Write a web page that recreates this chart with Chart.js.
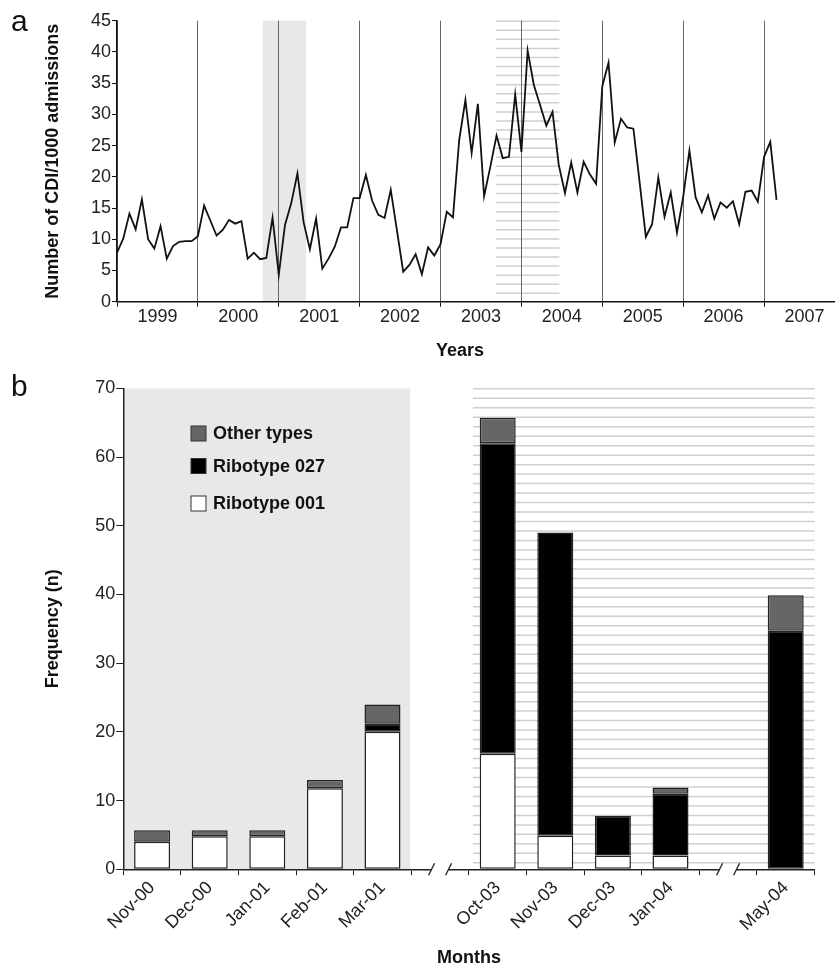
<!DOCTYPE html>
<html>
<head>
<meta charset="utf-8">
<script src="https://cdn.jsdelivr.net/npm/chart.js@4.4.0/dist/chart.umd.min.js"></script>
<style>
  body { margin: 0; background: #fff; font-family: "Liberation Sans", Arial, sans-serif; }
  #wrap { position: relative; width: 835px; height: 969px; }
  .panel { position: absolute; left: 11px; font-size: 30px; line-height: 1; color: #111; }
  #topChart { position: absolute; left: 0; top: 0; }
  #barChart { position: absolute; left: 0; top: 370px; }
</style>
</head>
<body>
<div id="wrap">
  <canvas id="topChart" width="835" height="370"></canvas>
  <canvas id="barChart" width="835" height="599"></canvas>
  <div class="panel" style="top:6px">a</div>
  <div class="panel" style="top:371px">b</div>
</div>
<script>
// panel a: CDI per 1000 admissions, 13 four-week periods per year
const years = ['1999', '2000', '2001', '2002', '2003', '2004', '2005', '2006', '2007'];
const periodsPerYear = 13;
const cdiRate = [
  7.85, 10.1, 14.1, 11.6, 16.4, 10.0, 8.5, 12.1, 6.9, 8.9, 9.6, 9.7, 9.7,
  10.5, 15.4, 13.0, 10.6, 11.5, 13.1, 12.5, 12.9, 6.9, 7.85, 6.8, 7.0, 13.45,
  4.3, 12.3, 15.75, 20.55, 12.7, 8.4, 13.3, 5.3, 6.9, 8.8, 11.9, 11.9, 16.6,
  16.6, 20.3, 16.2, 13.9, 13.4, 17.9, 11.4, 4.8, 5.9, 7.6, 4.4, 8.7, 7.4,
  9.2, 14.4, 13.5, 25.9, 32.3, 23.8, 31.7, 16.9, 21.6, 26.6, 23.0, 23.2, 33.2,
  24.0, 40.2, 34.7, 31.5, 28.2, 30.4, 21.9, 17.4, 22.3, 17.5, 22.4, 20.4, 18.9,
  34.5, 38.3, 25.5, 29.3, 27.9, 27.7, 19.1, 10.4, 12.4, 19.9, 13.6, 17.5, 11.05,
  16.8, 24.2, 16.7, 14.3, 17.0, 13.3, 15.9, 15.05, 16.1, 12.4, 17.6, 17.8, 16.0,
  23.2, 25.6, 16.3
];
// outbreak windows, in periods from Jan 1999
const greyWindow = [23.4, 30.4];
const hatchWindow = [60.9, 71.1];

// panel b: isolates per month
const months = ['Nov-00', 'Dec-00', 'Jan-01', 'Feb-01', 'Mar-01', '', 'Oct-03', 'Nov-03', 'Dec-03', 'Jan-04', '', 'May-04'];
const ribotype001 = [4, 4.8, 4.8, 11.8, 20, null, 16.8, 4.9, 2, 2, null, 0];
const ribotype027 = [0, 0, 0, 0, 1.2, null, 45.2, 44.1, 5.8, 9, null, 34.7];
const otherTypes = [1.7, 0.9, 0.9, 1.2, 2.8, null, 3.7, 0, 0, 0.9, null, 5.2];
const breakSlots = [5, 10];
const greyMonths = [-0.5, 4.48];
const hatchMonths = [5.57, 11.5];

Chart.defaults.font.family = '"Liberation Sans", Arial, sans-serif';
Chart.defaults.color = '#222';

// shaded + hatched backgrounds drawn under everything
const bands = {
  id: 'bands',
  beforeDraw(chart, args, opts) {
    const { ctx, chartArea: a, scales: { x } } = chart;
    ctx.save();
    const g0 = x.getPixelForValue(opts.grey[0]), g1 = x.getPixelForValue(opts.grey[1]);
    ctx.fillStyle = '#e8e8e8';
    ctx.fillRect(g0, a.top, g1 - g0, a.bottom - a.top);
    const h0 = x.getPixelForValue(opts.hatch[0]), h1 = x.getPixelForValue(opts.hatch[1]);
    ctx.strokeStyle = '#cfcfcf';
    ctx.lineWidth = 1.5;
    for (let y = a.top + 0.5; y < a.bottom - opts.gapBottom; y += opts.step) {
      ctx.beginPath();
      ctx.moveTo(h0, y);
      ctx.lineTo(h1, y);
      ctx.stroke();
    }
    ctx.restore();
  }
};

const yearsTitle = {
  id: 'yearsTitle',
  afterDraw(chart) {
    const ctx = chart.ctx;
    ctx.save();
    ctx.font = 'bold 18px "Liberation Sans", Arial, sans-serif';
    ctx.fillStyle = '#111';
    ctx.textAlign = 'center';
    ctx.textBaseline = 'middle';
    ctx.fillText('Years', 460, 351);
    ctx.restore();
  }
};

new Chart(document.getElementById('topChart'), {
  type: 'line',
  data: {
    datasets: [{
      data: cdiRate.map((v, i) => ({ x: i, y: v })),
      borderColor: '#111',
      borderWidth: 1.8,
      pointRadius: 0,
      tension: 0,
      fill: false
    }]
  },
  options: {
    responsive: false,
    animation: false,
    layout: { padding: { top: 20.7, right: 0, left: 0, bottom: 0 } },
    plugins: {
      legend: { display: false },
      tooltip: { enabled: false },
      bands: { grey: greyWindow, hatch: hatchWindow, step: 9.07, gapBottom: 6 }
    },
    scales: {
      x: {
        type: 'linear',
        min: 0,
        max: 115.4,
        afterBuildTicks(s) { s.ticks = years.map((_, k) => ({ value: k * periodsPerYear })); },
        afterFit(s) { s.height = 68.3; },
        ticks: {
          autoSkip: false, maxRotation: 0, padding: 0, labelOffset: 40.4,
          font: { size: 18 }, color: '#222',
          callback: (v, i) => years[i]
        },
        grid: { color: '#666', lineWidth: 1, tickLength: 5, tickColor: '#111' },
        border: { color: '#111', width: 1.5 }
      },
      y: {
        min: 0,
        max: 45,
        afterFit(s) { s.width = 117; },
        ticks: { stepSize: 5, padding: 1, font: { size: 18 }, color: '#222' },
        grid: { drawOnChartArea: false, tickLength: 5, tickColor: '#111' },
        border: { color: '#111', width: 1.5 },
        title: {
          display: true, text: 'Number of CDI/1000 admissions', color: '#111',
          font: { size: 18, weight: 'bold' }, padding: { top: 42, bottom: 0 }
        }
      }
    }
  },
  plugins: [bands, yearsTitle]
});

// legend inside the plot, top item first
const boxLegend = {
  id: 'boxLegend',
  afterDraw(chart) {
    const ctx = chart.ctx;
    const rows = [63.5, 96, 133.5];
    const items = chart.data.datasets.slice().reverse();
    ctx.save();
    ctx.font = 'bold 18px "Liberation Sans", Arial, sans-serif';
    ctx.textBaseline = 'middle';
    items.forEach((ds, k) => {
      const y = rows[k];
      ctx.fillStyle = ds.backgroundColor;
      ctx.fillRect(191, y - 7.5, 15, 15);
      ctx.strokeStyle = '#333';
      ctx.lineWidth = 1;
      ctx.strokeRect(191, y - 7.5, 15, 15);
      ctx.fillStyle = '#111';
      ctx.fillText(ds.label, 213, y + 1);
    });
    ctx.restore();
  }
};

// axis break marks in the empty slots
const axisBreaks = {
  id: 'axisBreaks',
  afterDraw(chart) {
    const { ctx, chartArea: a, scales: { x } } = chart;
    ctx.save();
    breakSlots.forEach(slot => {
      const cx = x.getPixelForValue(slot);
      ctx.fillStyle = '#fff';
      ctx.fillRect(cx - 8.5, a.bottom - 2, 17, 4);
      ctx.strokeStyle = '#222';
      ctx.lineWidth = 1.3;
      [-8.5, 8.5].forEach(dx => {
        ctx.beginPath();
        ctx.moveTo(cx + dx - 3, a.bottom + 6);
        ctx.lineTo(cx + dx + 3, a.bottom - 6);
        ctx.stroke();
      });
    });
    ctx.restore();
  }
};

const segBorder = c => (c.raw ? 1.5 : 0);

new Chart(document.getElementById('barChart'), {
  type: 'bar',
  data: {
    labels: months,
    datasets: [
      { label: 'Ribotype 001', data: ribotype001, backgroundColor: '#ffffff' },
      { label: 'Ribotype 027', data: ribotype027, backgroundColor: '#000000' },
      { label: 'Other types', data: otherTypes, backgroundColor: '#666666' }
    ].map(d => Object.assign(d, {
      borderColor: '#222', borderWidth: segBorder, borderSkipped: false,
      categoryPercentage: 1, barPercentage: 0.625
    }))
  },
  options: {
    responsive: false,
    animation: false,
    layout: { padding: { top: 18.3, right: 20.5, left: 0, bottom: 0 } },
    plugins: {
      legend: { display: false },
      tooltip: { enabled: false },
      bands: { grey: greyMonths, hatch: hatchMonths, step: 9.48, gapBottom: 3 }
    },
    scales: {
      x: {
        stacked: true,
        offset: true,
        afterFit(s) { s.height = 99.7; },
        ticks: { autoSkip: false, minRotation: 45, maxRotation: 45, padding: 2, font: { size: 18 }, color: '#222' },
        grid: { offset: true, drawOnChartArea: false, tickLength: 6, tickColor: '#222' },
        border: { color: '#222', width: 1.5 },
        title: {
          display: true, text: 'Months', color: '#111',
          font: { size: 18, weight: 'bold' }, padding: { top: 0, bottom: 0 }
        }
      },
      y: {
        stacked: true,
        min: 0,
        max: 70,
        afterFit(s) { s.width = 123.3; },
        ticks: { stepSize: 10, padding: 1, font: { size: 18 }, color: '#222' },
        grid: { drawOnChartArea: false, tickLength: 7, tickColor: '#222' },
        border: { color: '#222', width: 1.5 },
        title: {
          display: true, text: 'Frequency (n)', color: '#111',
          font: { size: 18, weight: 'bold' }, padding: { top: 42, bottom: 0 }
        }
      }
    }
  },
  plugins: [bands, boxLegend, axisBreaks]
});
</script>
</body>
</html>
